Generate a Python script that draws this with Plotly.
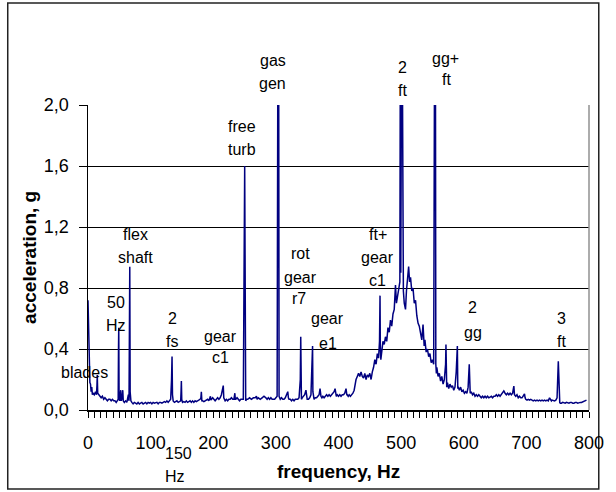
import plotly.graph_objects as go

# ---------------- data ----------------
freq_hz = [
    0, 1, 2, 3, 4, 5, 6, 7, 8, 10, 12, 13.5, 14.3, 14.8, 15.5, 17, 19, 21, 23, 25, 27, 29, 31, 33, 35, 37, 39, 41, 43, 45, 47,
    48.2, 48.7, 49.1, 49.6, 50.5, 51.5, 52.3, 53, 54.5, 55.5, 56.3, 58, 60, 62, 63.5, 64.5, 65.5, 66.2, 66.7, 67.3, 68.5,
    70, 72, 74, 76, 78, 80, 82, 84, 86, 88, 90, 92, 94, 96, 98, 100, 102, 104, 106, 108, 110, 112, 114, 116, 118, 120,
    122, 124, 126, 128, 130, 132, 133.4, 134.2, 134.9, 136, 138, 140, 142, 144, 146, 148, 148.6, 149.1, 149.7, 151, 153,
    155, 157, 159, 161, 163, 165, 167, 169, 171, 173, 175, 177, 179, 180.3, 181, 181.8, 183, 185, 187, 189, 191, 193,
    195.5, 196.2, 197, 199, 201, 203, 205, 207, 209, 211, 213, 214.5, 216, 216.8, 217.6, 219, 221, 223, 225, 227, 229,
    231, 233, 234.5, 235.2, 236, 238, 240, 242, 244, 246, 248, 250.2, 251, 251.8, 253, 255, 258, 261, 264, 267, 269,
    270, 272, 275, 278, 281, 284, 286, 288, 290, 292, 294, 296, 298, 300, 302, 303.5, 304.3, 305.1, 306, 307, 309, 311,
    313, 315, 317, 319, 320, 321, 323, 325, 327, 329, 331, 333, 335, 337, 339, 339.7, 340.2, 340.8, 342, 344, 346, 348,
    349, 350, 352, 354, 356, 357.8, 358.6, 359.1, 359.7, 361, 363, 365, 367, 369, 370.5, 371.3, 372, 373.5, 375, 377,
    379, 381, 383, 385, 387, 389, 391, 393, 394.5, 395.3, 396.5, 398, 400, 402, 404, 406, 408, 410, 412, 413.3, 414,
    415.5, 417, 419, 421, 423, 425, 426.5, 428, 430, 432, 434, 436, 438, 440, 442, 444, 446, 448, 450, 452, 454, 456,
    458, 460, 462, 464, 465.5, 466.3, 466.8, 467.6, 469, 471, 473, 475, 477, 479, 481, 483, 485, 487, 489, 491, 492.5,
    494, 496, 498, 499.0, 499.5, 501.2, 503.0, 503.6, 505, 507, 508.5, 510, 512, 513.5, 515, 517, 519, 521, 523, 525,
    527, 529, 531, 533, 535, 536.8, 538, 540, 542, 544, 546, 548, 550, 552, 553.8, 554.6, 555.4, 556.3, 557, 559, 561,
    563, 565, 567, 569, 571, 571.6, 572.1, 572.8, 574, 576, 578, 580, 582, 584, 586, 588, 589.8, 590.5, 591.2, 593, 595,
    597, 599, 601, 603, 605, 607, 608.8, 609.5, 610.3, 612, 614, 616, 618, 620, 622, 624, 626, 628, 630, 632, 634, 636,
    638, 640, 642, 644, 646, 648, 650, 652, 654, 656, 658, 660, 662, 664, 666, 668, 670, 672, 674, 676, 678, 680, 681,
    682, 683, 685, 687, 689, 691, 693, 695, 697, 698, 699, 701, 703, 705, 707, 709, 711, 713, 715, 717, 719, 721, 723,
    725, 727, 729, 731, 733, 735, 737, 739, 740, 741, 743, 745, 747, 749, 751, 752, 752.6, 753.3, 754.2, 756, 758, 760,
    762, 764, 766, 768, 770, 772, 774, 776, 778, 780, 782, 784, 786, 788, 790, 792, 794, 796, 798, 800,
]
accel_g = [
    0.72, 0.42, 0.25, 0.18, 0.17, 0.12, 0.15, 0.10, 0.11, 0.10, 0.12, 0.10, 0.16, 0.23, 0.11, 0.10, 0.09, 0.08, 0.09, 0.07, 0.08, 0.07, 0.06, 0.07, 0.07, 0.06, 0.07, 0.06, 0.06, 0.05, 0.06,
    0.07, 0.40, 0.54, 0.12, 0.06, 0.09, 0.13, 0.06, 0.08, 0.13, 0.06, 0.05, 0.06, 0.05, 0.09, 0.10, 0.06, 0.50, 0.94, 0.12, 0.06,
    0.05, 0.04, 0.05, 0.045, 0.04, 0.05, 0.04, 0.045, 0.05, 0.04, 0.045, 0.05, 0.04, 0.05, 0.045, 0.05, 0.04, 0.05, 0.045, 0.05, 0.05, 0.04, 0.05, 0.05, 0.045, 0.05,
    0.055, 0.05, 0.06, 0.05, 0.06, 0.07, 0.20, 0.35, 0.10, 0.06, 0.05, 0.055, 0.06, 0.05, 0.055, 0.06, 0.12, 0.19, 0.07, 0.05, 0.055,
    0.05, 0.06, 0.05, 0.055, 0.06, 0.05, 0.06, 0.05, 0.06, 0.055, 0.06, 0.06, 0.07, 0.08, 0.12, 0.06, 0.06, 0.055, 0.06, 0.06, 0.07,
    0.06, 0.09, 0.065, 0.07, 0.08, 0.07, 0.06, 0.07, 0.08, 0.07, 0.08, 0.10, 0.13, 0.16, 0.08, 0.07, 0.06, 0.07, 0.06, 0.07, 0.07,
    0.08, 0.07, 0.07, 0.11, 0.07, 0.07, 0.08, 0.07, 0.06, 0.07, 0.07, 0.07, 1.6, 0.07, 0.06, 0.07, 0.07, 0.08, 0.07, 0.08, 0.08,
    0.09, 0.07, 0.08, 0.07, 0.08, 0.09, 0.08, 0.07, 0.08, 0.07, 0.08, 0.07, 0.07, 0.07, 0.08, 0.09, 3.0, 3.0, 0.09, 0.07, 0.07, 0.08,
    0.07, 0.07, 0.08, 0.10, 0.12, 0.08, 0.07, 0.07, 0.06, 0.07, 0.06, 0.07, 0.07, 0.07, 0.08, 0.20, 0.48, 0.09, 0.07, 0.08, 0.09, 0.10,
    0.13, 0.08, 0.07, 0.07, 0.08, 0.10, 0.30, 0.42, 0.12, 0.08, 0.07, 0.08, 0.08, 0.09, 0.10, 0.14, 0.09, 0.09, 0.08, 0.09,
    0.08, 0.09, 0.10, 0.09, 0.10, 0.09, 0.10, 0.11, 0.12, 0.14, 0.09, 0.09, 0.10, 0.09, 0.10, 0.09, 0.10, 0.10, 0.11, 0.14, 0.10,
    0.10, 0.09, 0.10, 0.09, 0.10, 0.11, 0.13, 0.17, 0.20, 0.22, 0.24, 0.22, 0.25, 0.22, 0.21, 0.24, 0.20, 0.23, 0.22, 0.24, 0.20, 0.25,
    0.28, 0.33, 0.30, 0.37, 0.34, 0.45, 0.75, 0.42, 0.33, 0.38, 0.45, 0.43, 0.48, 0.45, 0.54, 0.51, 0.59, 0.55, 0.63, 0.66, 0.82,
    0.70, 0.74, 0.80, 0.84, 3.0, 0.90, 3.0, 0.86, 0.78, 0.70, 0.66, 0.78, 0.86, 0.94, 0.84, 0.87, 0.78, 0.80, 0.70, 0.72,
    0.62, 0.57, 0.55, 0.50, 0.46, 0.56, 0.42, 0.46, 0.38, 0.40, 0.35, 0.37, 0.31, 0.33, 0.30, 3.0, 3.0, 0.30, 0.24, 0.28, 0.22,
    0.24, 0.19, 0.22, 0.17, 0.20, 0.30, 0.43, 0.17, 0.15, 0.18, 0.14, 0.17, 0.15, 0.16, 0.13, 0.15, 0.25, 0.42, 0.14, 0.15, 0.13,
    0.15, 0.12, 0.13, 0.11, 0.12, 0.11, 0.15, 0.30, 0.15, 0.11, 0.12, 0.10, 0.11, 0.09, 0.10, 0.09, 0.10, 0.09, 0.08, 0.09, 0.08, 0.09,
    0.08, 0.09, 0.08, 0.085, 0.09, 0.08, 0.09, 0.09, 0.10, 0.09, 0.10, 0.09, 0.10, 0.11, 0.125, 0.11, 0.10, 0.11, 0.10, 0.11, 0.10, 0.11, 0.157,
    0.10, 0.09, 0.09, 0.10, 0.08, 0.09, 0.08, 0.08, 0.09, 0.105, 0.08, 0.07, 0.065, 0.07, 0.065, 0.07, 0.065, 0.06, 0.065, 0.06, 0.065, 0.06,
    0.065, 0.06, 0.065, 0.06, 0.065, 0.06, 0.065, 0.06, 0.08, 0.06, 0.06, 0.065, 0.06, 0.06, 0.065, 0.08, 0.32, 0.12, 0.05, 0.05, 0.045, 0.045,
    0.05, 0.045, 0.045, 0.05, 0.045, 0.045, 0.05, 0.05, 0.045, 0.045, 0.05, 0.05, 0.045, 0.05, 0.05, 0.05, 0.055, 0.06, 0.06, 0.065,
]

X_MAX = 800.0
Y_MAX = 2.0
y_tick_vals = [0.0, 0.4, 0.8, 1.2, 1.6, 2.0]
y_tick_text = ["0,0", "0,4", "0,8", "1,2", "1,6", "2,0"]
x_tick_vals = [0, 100, 200, 300, 400, 500, 600, 700, 800]
x_tick_text = ["0", "100", "200", "300", "400", "500", "600", "700", "800"]

# peak labels: one entry per text line (text, frequency in Hz, acceleration in g)
label_text = ["gas", "gen", "2", "ft", "gg+", "ft", "free", "turb", "flex", "shaft",
              "ft+", "gear", "c1", "rot", "gear", "r7", "50", "Hz", "2", "fs",
              "gear", "e1", "2", "gg", "3", "ft", "gear", "c1", "blades", "150", "Hz"]
label_x = [295.3, 295.3, 501.6, 501.6, 570.3, 571.9, 245.3, 245.3, 76.6, 76.6,
           462.5, 462.5, 462.5, 339.1, 339.1, 337.5, 45.3, 45.3, 134.4, 134.4,
           382.8, 382.8, 614.1, 614.1, 756.3, 756.3, 210.9, 210.9, -6.25, 143.8, 139.1]
label_y = [2.295, 2.144, 2.249, 2.098, 2.302, 2.164, 1.856, 1.711, 1.148, 1.003,
           1.148, 0.997, 0.846, 1.023, 0.872, 0.728, 0.702, 0.551, 0.597, 0.446,
           0.597, 0.439, 0.669, 0.511, 0.597, 0.446, 0.485, 0.341, 0.243, -0.282, -0.439]

FONT = "Liberation Sans, Arial, sans-serif"

fig = go.Figure()
fig.add_trace(go.Scatter(
    x=freq_hz, y=accel_g, mode="lines",
    line=dict(color="#000080", width=1.5),
    showlegend=False, hoverinfo="skip",
))

annotations = []
for t, xv, yv in zip(label_text, label_x, label_y):
    # placed in paper fractions so labels outside the axis range stay visible
    annotations.append(dict(
        text=t, x=xv / X_MAX, y=yv / Y_MAX, xref="paper", yref="paper", showarrow=False,
        xanchor="center", yanchor="middle",
        font=dict(family=FONT, size=16, color="black"),
    ))
annotations.append(dict(
    text="<b>frequency, Hz</b>", x=0.5, y=-0.203, xref="paper", yref="paper",
    showarrow=False, xanchor="center", yanchor="middle",
    font=dict(family=FONT, size=19, color="black"),
))
annotations.append(dict(
    text="<b>acceleration, g</b>", x=-0.117, y=0.5, xref="paper", yref="paper",
    showarrow=False, xanchor="center", yanchor="middle", textangle=-90,
    font=dict(family=FONT, size=19, color="black"),
))

fig.update_layout(
    width=616, height=492,
    margin=dict(l=88, r=16, t=105, b=82, pad=0),
    paper_bgcolor="white", plot_bgcolor="white",
    font=dict(family=FONT, size=18, color="black"),
    annotations=annotations,
    shapes=[
        # outer chart frame
        dict(type="rect", xref="paper", yref="paper",
             x0=-0.1602, x1=1.0195, y0=-0.259, y1=1.3344,
             line=dict(color="#222222", width=1.5), layer="below"),
        # right edge of plot area (grey)
        dict(type="line", xref="paper", yref="paper",
             x0=1, x1=1, y0=0, y1=1,
             line=dict(color="#909090", width=1.5)),
    ],
)

fig.update_xaxes(
    range=[0, X_MAX], tickvals=x_tick_vals, ticktext=x_tick_text,
    showgrid=False, zeroline=False,
    showline=True, linecolor="black", linewidth=1.5,
    ticks="outside", ticklen=6, tickwidth=1, tickcolor="black",
    minor=dict(dtick=10, tick0=0, ticks="outside", ticklen=6, tickwidth=1,
               tickcolor="black", showgrid=False),
    tickfont=dict(family=FONT, size=18, color="black"),
    ticklabelstandoff=10,
)
fig.update_yaxes(
    range=[0, Y_MAX], tickvals=y_tick_vals, ticktext=y_tick_text,
    showgrid=True, gridcolor="black", gridwidth=1,
    zeroline=False,
    showline=True, linecolor="black", linewidth=1.5,
    ticks="outside", ticklen=8, tickwidth=1, tickcolor="black",
    tickfont=dict(family=FONT, size=18, color="black"),
    ticklabelstandoff=6,
)

fig.write_html(
    "out.html",
    config={"displayModeBar": False, "staticPlot": True},
    post_script="document.body.style.margin='0px';document.body.style.overflow='hidden';",
)
